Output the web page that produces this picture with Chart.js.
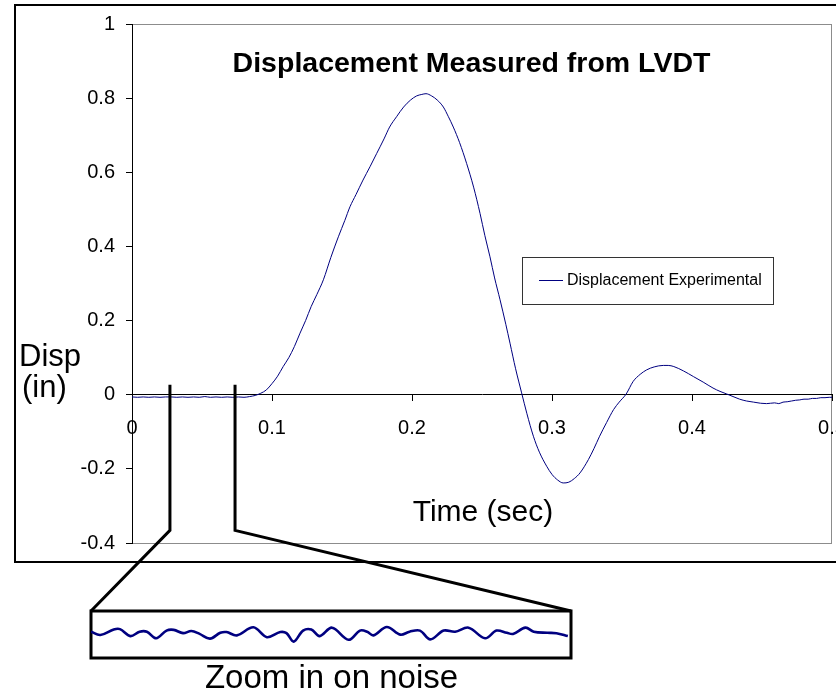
<!DOCTYPE html>
<html>
<head>
<meta charset="utf-8">
<script src="https://cdn.jsdelivr.net/npm/chart.js@4/dist/chart.umd.min.js"></script>
<style>
  html, body { margin: 0; padding: 0; background: #ffffff; }
  #wrap { position: relative; width: 836px; height: 693px; overflow: hidden; }
  #main { position: absolute; left: 0; top: 0; }
  #inset { position: absolute; left: 91px; top: 611px; }
</style>
</head>
<body>
<div id="wrap">
  <canvas id="main" width="836" height="693"></canvas>
  <canvas id="inset" width="481" height="48"></canvas>
</div>
<script>
// ---------------- data ----------------
const chartTitle = "Displacement Measured from LVDT";
const seriesLabel = "Displacement Experimental";
const xAxisTitle = "Time (sec)";
const yAxisTitle = ["Disp", "(in)"];
const noteText = "Zoom in on noise";

const xRange = [0, 0.5];
const xStep = 0.1;
const yRange = [-0.4, 1];
const yStep = 0.2;

const timeSec = [
  0.000, 0.004, 0.008, 0.012, 0.016, 0.020, 0.024, 0.028, 0.032, 0.036,
  0.040, 0.044, 0.048, 0.052, 0.056, 0.060, 0.064, 0.068, 0.072, 0.076,
  0.080, 0.084, 0.088, 0.092, 0.096, 0.100, 0.104, 0.108, 0.112, 0.116,
  0.120, 0.124, 0.128, 0.132, 0.1367, 0.142, 0.1474, 0.152, 0.1557, 0.160,
  0.165, 0.170, 0.1748, 0.180, 0.184, 0.189, 0.194, 0.199, 0.2033, 0.207,
  0.210, 0.214, 0.218, 0.2224, 0.226, 0.2295, 0.234, 0.239, 0.244, 0.2486,
  0.252, 0.2557, 0.259, 0.2629, 0.267, 0.270, 0.274, 0.2783, 0.282, 0.2867,
  0.291, 0.2962, 0.300, 0.304, 0.308, 0.312, 0.316, 0.320, 0.326, 0.330,
  0.334, 0.339, 0.344, 0.348, 0.353, 0.358, 0.363, 0.3676, 0.373, 0.3795,
  0.383, 0.387, 0.394, 0.401, 0.408, 0.415, 0.420, 0.4248, 0.430, 0.434,
  0.439, 0.444, 0.449, 0.4533, 0.459, 0.462, 0.465, 0.468, 0.471, 0.474,
  0.477, 0.480, 0.483, 0.486, 0.489, 0.492, 0.495, 0.498, 0.500
];
const dispIn = [
  -0.006, -0.007, -0.006, -0.007, -0.006, -0.007, -0.006, -0.006, -0.007, -0.006,
  -0.007, -0.006, -0.007, -0.005, -0.007, -0.006, -0.007, -0.006, -0.007, -0.006,
  -0.007, -0.005, -0.002, 0.004, 0.013, 0.030, 0.050, 0.076, 0.100, 0.130,
  0.166, 0.200, 0.238, 0.270, 0.310, 0.370, 0.426, 0.470, 0.507, 0.540,
  0.579, 0.615, 0.651, 0.690, 0.722, 0.750, 0.776, 0.795, 0.806, 0.810,
  0.812, 0.806, 0.795, 0.776, 0.750, 0.722, 0.680, 0.624, 0.560, 0.489,
  0.430, 0.372, 0.315, 0.256, 0.190, 0.139, 0.070, 0.005, -0.050, -0.112,
  -0.155, -0.193, -0.215, -0.230, -0.238, -0.236, -0.226, -0.211, -0.175, -0.145,
  -0.112, -0.075, -0.040, -0.020, 0.002, 0.036, 0.055, 0.067, 0.075, 0.079,
  0.079, 0.076, 0.064, 0.049, 0.034, 0.018, 0.009, 0.002, -0.006, -0.012,
  -0.017, -0.020, -0.023, -0.024, -0.022, -0.024, -0.020, -0.019, -0.017, -0.015,
  -0.014, -0.012, -0.012, -0.010, -0.010, -0.008, -0.008, -0.007, -0.007
];

// zoomed noise window (seconds) and the noise trace shown in the inset
const zoomWindow = [0.0271, 0.0736];
const zoomLineSpan = [0.027, -0.366];   // vertical extent of the pointer lines (in)
const noiseRange = [-0.0085, -0.0049];
const noiseTime = [
  0.0271, 0.0280, 0.0293, 0.0299, 0.0309, 0.0318, 0.0325, 0.0334, 0.0344, 0.0351,
  0.0360, 0.0368, 0.0376, 0.0386, 0.0396, 0.0402, 0.0412, 0.0428, 0.0441, 0.0454,
  0.0460, 0.0467, 0.0476, 0.0484, 0.0492, 0.0504, 0.0520, 0.0531, 0.0538, 0.0544,
  0.0557, 0.0570, 0.0579, 0.0589, 0.0599, 0.0612, 0.0623, 0.0636, 0.0652, 0.0663,
  0.0673, 0.0679, 0.0691, 0.0699, 0.0712, 0.0721, 0.0732
];
const noiseDisp = [
  -0.00643, -0.00670, -0.00625, -0.00622, -0.00679, -0.00643, -0.00643, -0.00697, -0.00634, -0.00628,
  -0.00655, -0.00637, -0.00661, -0.00700, -0.00652, -0.00646, -0.00673, -0.00607, -0.00688, -0.00646,
  -0.00655, -0.00724, -0.00634, -0.00625, -0.00679, -0.00610, -0.00709, -0.00634, -0.00643, -0.00673,
  -0.00604, -0.00667, -0.00643, -0.00634, -0.00706, -0.00634, -0.00643, -0.00610, -0.00697, -0.00634,
  -0.00652, -0.00661, -0.00610, -0.00643, -0.00652, -0.00655, -0.00679
];

// ---------------- styling ----------------
const FONT = "'Liberation Sans', Arial, Helvetica, sans-serif";
const LINE_COLOR = "#000080";
const insetBox = { left: 91, top: 611, right: 571, bottom: 658 };

function fmtTick(v) {
  const r = Math.round(v * 10) / 10;
  return String(r === 0 ? 0 : r);
}

const decor = {
  id: 'decor',
  beforeDraw(chart) {
    const ctx = chart.ctx, a = chart.chartArea;
    ctx.save();
    ctx.fillStyle = '#ffffff';
    ctx.fillRect(0, 0, chart.width, chart.height);
    // outer frame
    ctx.strokeStyle = '#000000';
    ctx.lineWidth = 2;
    ctx.strokeRect(15, 5, 840, 557);
    // plot area border (grey)
    ctx.strokeStyle = '#8c8c8c';
    ctx.lineWidth = 1;
    ctx.strokeRect(Math.round(a.left) + 0.5, Math.round(a.top) + 0.5,
                   Math.round(a.right - a.left) - 1, Math.round(a.bottom - a.top));
    ctx.restore();
  },
  afterDraw(chart) {
    const ctx = chart.ctx, xs = chart.scales.x, ys = chart.scales.y;
    ctx.save();
    ctx.fillStyle = '#000000';
    ctx.textBaseline = 'alphabetic';
    // title
    ctx.font = "bold 28.5px " + FONT;
    ctx.textAlign = 'center';
    ctx.fillText(chartTitle, 471.5, 72);
    // x axis title
    ctx.font = "30px " + FONT;
    ctx.fillText(xAxisTitle, 483, 521);
    // y axis title
    ctx.font = "31px " + FONT;
    ctx.textAlign = 'left';
    ctx.fillText(yAxisTitle[0], 19, 366);
    ctx.fillText(yAxisTitle[1], 22, 397);
    // legend
    const ds = chart.data.datasets[0];
    ctx.fillStyle = '#ffffff';
    ctx.fillRect(522, 257, 251, 47);
    ctx.strokeStyle = '#333333';
    ctx.lineWidth = 1;
    ctx.strokeRect(522.5, 257.5, 251, 47);
    ctx.strokeStyle = ds.borderColor;
    ctx.beginPath();
    ctx.moveTo(539, 280.5); ctx.lineTo(563, 280.5);
    ctx.stroke();
    ctx.fillStyle = '#000000';
    ctx.font = "16px " + FONT;
    ctx.textBaseline = 'middle';
    ctx.fillText(ds.label, 567, 281);
    // zoom pointer lines
    ctx.strokeStyle = '#000000';
    ctx.lineWidth = 3;
    ctx.lineJoin = 'miter';
    const xa = xs.getPixelForValue(zoomWindow[0]);
    const xb = xs.getPixelForValue(zoomWindow[1]);
    const yt = ys.getPixelForValue(zoomLineSpan[0]);
    const yb = ys.getPixelForValue(zoomLineSpan[1]);
    ctx.beginPath();
    ctx.moveTo(xa, yt); ctx.lineTo(xa, yb); ctx.lineTo(insetBox.left, insetBox.top);
    ctx.stroke();
    ctx.beginPath();
    ctx.moveTo(xb, yt); ctx.lineTo(xb, yb); ctx.lineTo(insetBox.right, insetBox.top);
    ctx.stroke();
    // inset frame
    ctx.strokeRect(insetBox.left, insetBox.top,
                   insetBox.right - insetBox.left, insetBox.bottom - insetBox.top);
    // note
    ctx.font = "33px " + FONT;
    ctx.textAlign = 'center';
    ctx.textBaseline = 'alphabetic';
    ctx.fillText(noteText, 331.5, 688);
    ctx.restore();
  }
};

const mainChart = new Chart(document.getElementById('main'), {
  type: 'line',
  data: {
    datasets: [{
      label: seriesLabel,
      data: timeSec.map((t, i) => ({ x: t, y: dispIn[i] })),
      borderColor: LINE_COLOR,
      borderWidth: 1,
      pointRadius: 0,
      cubicInterpolationMode: 'monotone',
      fill: false
    }]
  },
  options: {
    responsive: false,
    animation: false,
    devicePixelRatio: 1,
    layout: { padding: { left: 0, top: 24, right: 4, bottom: 150 } },
    plugins: { legend: { display: false }, title: { display: false }, tooltip: { enabled: false } },
    scales: {
      x: {
        type: 'linear',
        position: { y: 0 },
        min: xRange[0], max: xRange[1],
        ticks: {
          stepSize: xStep,
          color: '#000000',
          font: { family: FONT, size: 20 },
          padding: 16,
          maxRotation: 0,
          autoSkip: false,
          callback: fmtTick
        },
        grid: { drawOnChartArea: false, drawTicks: true, tickLength: 6, color: '#000000', lineWidth: 1 },
        border: { display: true, color: '#000000', width: 1 },
        afterFit(scale) { scale.paddingLeft = 0; scale.paddingRight = 0; }
      },
      y: {
        type: 'linear',
        position: 'left',
        min: yRange[0], max: yRange[1],
        ticks: {
          stepSize: yStep,
          color: '#000000',
          font: { family: FONT, size: 20 },
          padding: 11,
          callback: fmtTick
        },
        grid: { drawOnChartArea: false, drawTicks: true, tickLength: 6, color: '#000000', lineWidth: 1 },
        border: { display: true, color: '#000000', width: 1 },
        afterFit(scale) { scale.width = 132; }
      }
    }
  },
  plugins: [decor]
});

const insetChart = new Chart(document.getElementById('inset'), {
  type: 'line',
  data: {
    datasets: [{
      data: noiseTime.map((t, i) => ({ x: t, y: noiseDisp[i] })),
      borderColor: LINE_COLOR,
      borderWidth: 2.6,
      pointRadius: 0,
      tension: 0.35,
      fill: false
    }]
  },
  options: {
    responsive: false,
    animation: false,
    devicePixelRatio: 1,
    layout: { padding: { left: 0, right: 0, top: 2, bottom: 2 } },
    plugins: { legend: { display: false }, tooltip: { enabled: false } },
    scales: {
      x: { type: 'linear', display: false, min: zoomWindow[0], max: zoomWindow[1] },
      y: { type: 'linear', display: false, min: noiseRange[0], max: noiseRange[1] }
    }
  }
});
</script>
</body>
</html>
